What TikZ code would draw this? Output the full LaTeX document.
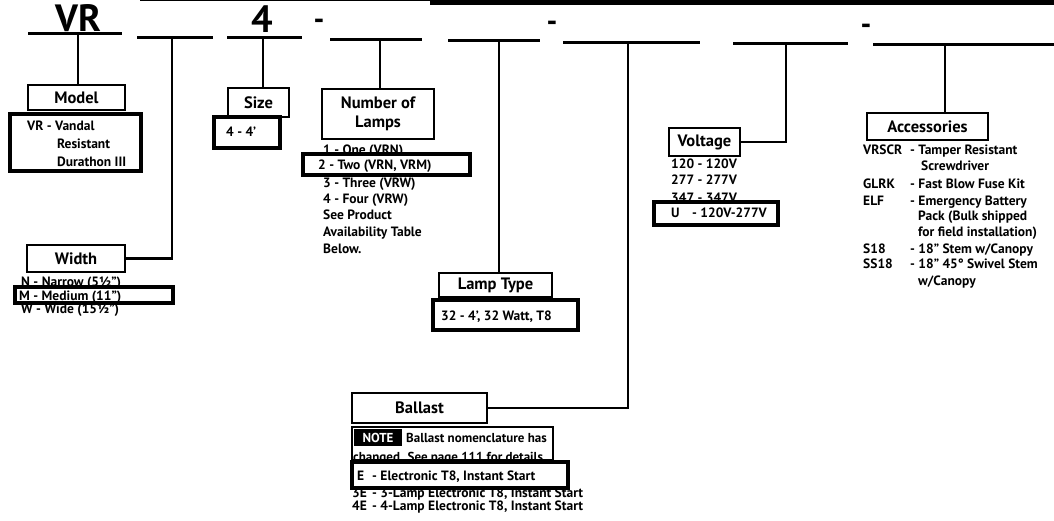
\documentclass[tikz,border=0pt]{standalone}
\usepackage{fontspec}
\setmainfont{PT Sans}
\begin{document}
\begin{tikzpicture}[x=1pt,y=-1pt,
  lbl/.style={draw=black, line width=1.4pt, fill=white, inner sep=0pt, font=\bfseries\fontsize{16.5}{18.5}\selectfont, align=center},
  valbox/.style={draw=black, line width=3.6pt, fill=white, inner sep=0pt},
  txt/.style={anchor=base west, inner sep=0pt, font=\bfseries\fontsize{13.5}{15}\selectfont},
  big/.style={anchor=base, inner sep=0pt, font=\bfseries\fontsize{38}{40}\selectfont},
  hy/.style={inner sep=0pt, font=\bfseries\fontsize{30}{30}\selectfont},
  seg/.style={line width=3pt},
  conn/.style={line width=2.2pt},
]
\useasboundingbox (0,0) rectangle (1054,521);
\fill[white] (0,0) rectangle (1054,521);
% scan band at the top
\fill[black] (140,0) rectangle (430,1.5);
\fill[black] (430,0) rectangle (1054,5);

% header
\node[big] (hVR) at (78,32) {VR};
\node[big] (h4) at (262,33) {4};
\node[hy] (hy1) at (319,24) {-};
\node[hy] (hy2) at (552,26) {-};
\node[hy] (hy3) at (866,29) {-};

\draw[seg] (28,34) -- (122,34);
\draw[seg] (137,38) -- (213,38);
\draw[seg] (227,38) -- (302,38);
\draw[seg] (330,40) -- (422,40);
\draw[seg] (448,41) -- (540,41);
\draw[seg] (563,43) -- (700,43);
\draw[seg] (733,44) -- (848,44);
\draw[seg] (873,45) -- (1054,45);

\coordinate (dModel) at (78,34);
\coordinate (dWidth) at (172,38);
\coordinate (dSize) at (263,38);
\coordinate (dLamps) at (380,40);
\coordinate (dType) at (499,41);
\coordinate (dBallast) at (628,43);
\coordinate (dVolt) at (786,44);
\coordinate (dAcc) at (945,45);

% label boxes
\node[lbl, minimum width=97pt, minimum height=25pt] (model) at (76.5,97.5) {Model};
\node[lbl, minimum width=61pt, minimum height=29pt] (size) at (258.5,102.5) {Size};
\node[lbl, minimum width=112pt, minimum height=50pt] (lamps) at (378,114) {Number of\\Lamps};
\node[lbl, minimum width=98pt, minimum height=27pt] (width) at (76,258.5) {Width};
\node[lbl, minimum width=113pt, minimum height=24pt] (ltype) at (495.5,285) {Lamp Type};
\node[lbl, minimum width=71pt, minimum height=28pt] (volt) at (704.5,142) {Voltage};
\node[lbl, minimum width=121pt, minimum height=27pt] (acc) at (927.5,126.5) {Accessories};
\node[lbl, minimum width=135pt, minimum height=30pt] (ballast) at (419.5,408) {Ballast};

% connectors
\draw[conn] (dModel) -- (dModel |- model.north);
\draw[conn] (dSize) -- (dSize |- size.north);
\draw[conn] (dLamps) -- (dLamps |- lamps.north);
\draw[conn] (dType) -- (dType |- ltype.north);
\draw[conn] (dAcc) -- (dAcc |- acc.north);
\draw[conn] (dWidth) |- (width.east);
\draw[conn] (dVolt) |- (volt.east);
\draw[conn] (dBallast) |- (ballast.east);

% Model
\node[valbox, minimum width=131pt, minimum height=57pt] (modelv) at (75.5,142.5) {};
\node[txt] (m1) at (27,131) {VR - Vandal};
\node[txt] (m2) at (57,149) {Resistant};
\node[txt] (m3) at (57,167) {Durathon III};

% Size
\node[valbox, minimum width=66pt, minimum height=31pt] (sizev) at (247,132.5) {};
\node[txt] (s1) at (226,137) {4 - 4'};

% Number of lamps
\node[txt] (l1) at (323,155) {1 - One (VRN)};
\node[txt] (l3) at (323,188) {3 - Three (VRW)};
\node[txt] (l4) at (323,204) {4 - Four (VRW)};
\node[txt] (l5) at (323,220) {See Product};
\node[txt] (l6) at (323,237) {Availability Table};
\node[txt] (l7) at (323,254) {Below.};
\node[valbox, minimum width=167pt, minimum height=21pt] (lampsv) at (386.5,164.5) {};
\node[txt] (l2) at (318,170) {2 - Two (VRN, VRM)};

% Width
\node[txt] (w1) at (21,286.5) {N - Narrow (5½")};
\node[txt] (w3) at (21,313) {W - Wide (15½")};
\node[valbox, minimum width=158pt, minimum height=16pt] (widthv) at (94,295) {};
\node[txt] (w2) at (19,300) {M - Medium (11")};

% Lamp type
\node[valbox, minimum width=145pt, minimum height=30pt] (ltypev) at (505.5,315) {};
\node[txt] (t1) at (441,320) {32 - 4', 32 Watt, T8};

% Voltage
\node[txt] (v1) at (671,169) {120 - 120V};
\node[txt] (v2) at (671,185) {277 - 277V};
\node[txt] (v3) at (671,203) {347 - 347V};
\node[valbox, minimum width=124pt, minimum height=23pt] (voltv) at (716,213.5) {};
\node[txt] (v4a) at (671,218) {U};
\node[txt] (v4b) at (692,218) {- 120V-277V};

% Accessories
\node[txt] (a1k) at (863,155) {VRSCR};
\node[txt] (a1d) at (910,155) {- Tamper Resistant};
\node[txt] (a1e) at (921,171) {Screwdriver};
\node[txt] (a2k) at (863,189) {GLRK};
\node[txt] (a2d) at (910,189) {- Fast Blow Fuse Kit};
\node[txt] (a3k) at (863,206) {ELF};
\node[txt] (a3d) at (910,206) {- Emergency Battery};
\node[txt] (a3e) at (918,221) {Pack (Bulk shipped};
\node[txt] (a3f) at (918,237) {for field installation)};
\node[txt] (a4k) at (863,254) {S18};
\node[txt] (a4d) at (910,254) {- 18" Stem w/Canopy};
\node[txt] (a5k) at (863,269) {SS18};
\node[txt] (a5d) at (910,269) {- 18" 45° Swivel Stem};
\node[txt] (a5e) at (918,285) {w/Canopy};

% Ballast
\node[draw=black, line width=1.3pt, fill=white, minimum width=201pt, minimum height=33pt, inner sep=0pt] (notebox) at (452.5,443.5) {};
\node[fill=black, text=white, font=\bfseries\fontsize{13}{14}\selectfont, minimum width=48pt, minimum height=17pt, inner sep=0pt] (notetag) at (378,437.5) {NOTE};
\node[txt, font=\bfseries\fontsize{13}{14}\selectfont] (n1) at (406,442) {Ballast nomenclature has};
\node[txt, font=\bfseries\fontsize{13}{14}\selectfont] (n2) at (353,461) {changed. See page 111 for details};
\node[txt] (b3k) at (352,497) {3E};
\node[txt] (b3d) at (372,497) {- 3-Lamp Electronic T8, Instant Start};
\node[txt] (b4k) at (352,510) {4E};
\node[txt] (b4d) at (372,510) {- 4-Lamp Electronic T8, Instant Start};
\node[valbox, minimum width=216pt, minimum height=26pt] (ballastv) at (460,475) {};
\node[txt] (b1k) at (357,480) {E};
\node[txt] (b1d) at (372,480) {- Electronic T8, Instant Start};
\end{tikzpicture}
\end{document}
